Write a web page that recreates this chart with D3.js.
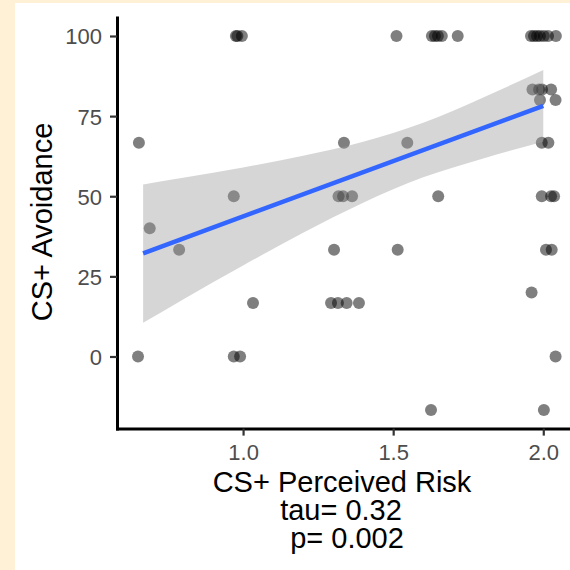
<!DOCTYPE html>
<html>
<head>
<meta charset="utf-8">
<script src="https://cdn.jsdelivr.net/npm/d3@7"></script>
<style>
  html, body { margin: 0; padding: 0; background: #fff1d5; }
  svg { display: block; font-family: "Liberation Sans", Arial, sans-serif; }
</style>
</head>
<body>
<svg id="chart" width="570" height="570"></svg>
<script>
// scatter points (perceived risk, avoidance), jittered horizontally
const riskX = [
  0.976, 0.981, 0.996, 1.511, 1.629, 1.639, 1.649, 1.662, 1.715,
  1.959, 1.969, 1.979, 1.989, 2.002, 2.016, 2.042,
  1.964, 1.986, 1.996, 2.026,
  1.989, 2.041,
  0.653, 1.336, 1.547, 1.995, 2.017,
  0.969, 1.318, 1.333, 1.363, 1.650, 1.995, 2.026, 2.036,
  0.689,
  0.787, 1.303, 1.515, 2.009, 2.028,
  1.961,
  1.033, 1.293, 1.316, 1.345, 1.386,
  0.650, 0.969, 0.990, 2.041,
  1.626, 2.002
];
const avoidY = [
  100, 100, 100, 100, 100, 100, 100, 100, 100,
  100, 100, 100, 100, 100, 100, 100,
  83.33, 83.33, 83.33, 83.33,
  80, 80,
  66.67, 66.67, 66.67, 66.67, 66.67,
  50, 50, 50, 50, 50, 50, 50, 50,
  40,
  33.33, 33.33, 33.33, 33.33, 33.33,
  20,
  16.67, 16.67, 16.67, 16.67, 16.67,
  0, 0, 0, 0,
  -16.67, -16.67
];

// regression line and its confidence band
const fitX = [0.667, 2.0];
const fitY = [32.2, 78.2];
const bandX     = [0.667, 0.8, 1.0, 1.2, 1.4, 1.6, 1.8, 2.0];
const bandUpper = [53.7, 55.8, 59.0, 62.6, 67.0, 72.9, 80.8, 89.4];
const bandLower = [10.5, 17.8, 28.4, 38.6, 48.0, 55.9, 61.8, 67.0];

const xTicks = [1.0, 1.5, 2.0];
const yTicks = [0, 25, 50, 75, 100];

const svg = d3.select('#chart');

// white panel over the yellow backdrop
svg.append('rect')
  .attr('x', 15).attr('y', 3)
  .attr('width', 555).attr('height', 567)
  .attr('fill', '#ffffff');

const x = d3.scaleLinear().domain([0.58, 2.112]).range([117, 576.9]);
const y = d3.scaleLinear().domain([-22.5, 105.8]).range([428.6, 17.4]);

const plot = svg.append('g');

plot.append('g')
  .selectAll('circle')
  .data(riskX.map((v, i) => [v, avoidY[i]]))
  .join('circle')
  .attr('cx', d => x(d[0]))
  .attr('cy', d => y(d[1]))
  .attr('r', 6)
  .attr('fill', '#000')
  .attr('fill-opacity', 0.5);

const band = bandX.map((v, i) => ({ x: v, lo: bandLower[i], hi: bandUpper[i] }));
plot.append('path')
  .datum(band)
  .attr('fill', '#999999')
  .attr('fill-opacity', 0.4)
  .attr('d', d3.area()
    .curve(d3.curveMonotoneX)
    .x(d => x(d.x))
    .y0(d => y(d.lo))
    .y1(d => y(d.hi)));

plot.append('path')
  .datum(fitX.map((v, i) => [v, fitY[i]]))
  .attr('fill', 'none')
  .attr('stroke', '#3366ff')
  .attr('stroke-width', 4.5)
  .attr('d', d3.line().x(d => x(d[0])).y(d => y(d[1])));

// axes
const xAxis = svg.append('g')
  .attr('transform', 'translate(0,428.6)')
  .call(d3.axisBottom(x).tickValues(xTicks).tickFormat(d3.format('.1f'))
    .tickSizeInner(7).tickSizeOuter(0).tickPadding(9));

const yAxis = svg.append('g')
  .attr('transform', 'translate(117,0)')
  .call(d3.axisLeft(y).tickValues(yTicks)
    .tickSizeInner(7).tickSizeOuter(0).tickPadding(8));

[xAxis, yAxis].forEach(g => {
  g.select('.domain').attr('stroke', '#000').attr('stroke-width', 3)
    .attr('stroke-linecap', 'square');
  g.selectAll('.tick line').attr('stroke', '#333').attr('stroke-width', 2.2);
  g.selectAll('.tick text')
    .attr('fill', '#4d4d4d')
    .style('font-size', '22px');
});
yAxis.selectAll('.tick text').attr('dy', '0.36em');

// titles
const xTitle = svg.append('text')
  .attr('text-anchor', 'middle')
  .attr('fill', '#000')
  .style('font-size', '29px');
xTitle.append('tspan').attr('x', 342).attr('y', 492).text('CS+ Perceived Risk');
xTitle.append('tspan').attr('x', 341).attr('y', 520).text('tau= 0.32');
xTitle.append('tspan').attr('x', 343).attr('y', 548).text(' p= 0.002');

svg.append('text')
  .attr('transform', 'translate(52,222) rotate(-90)')
  .attr('text-anchor', 'middle')
  .attr('fill', '#000')
  .style('font-size', '29px')
  .text('CS+ Avoidance');
</script>
</body>
</html>
